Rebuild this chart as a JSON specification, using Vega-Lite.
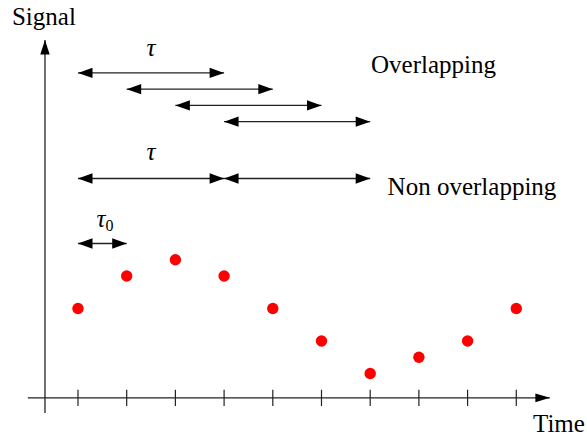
{
  "$schema": "https://vega.github.io/schema/vega-lite/v6.json",
  "width": 587,
  "height": 437,
  "autosize": {"type": "fit", "contains": "padding"},
  "padding": 0,
  "background": "white",
  "config": {"view": {"stroke": null}},
  "datasets": {
    "signal": [
      {"t": 1, "s": 6}, {"t": 2, "s": 8}, {"t": 3, "s": 9}, {"t": 4, "s": 8}, {"t": 5, "s": 6},
      {"t": 6, "s": 4}, {"t": 7, "s": 2}, {"t": 8, "s": 3}, {"t": 9, "s": 4}, {"t": 10, "s": 6}
    ],
    "intervals": [
      {"kind": "Overlapping", "start": 1, "end": 4, "level": 20.5},
      {"kind": "Overlapping", "start": 2, "end": 5, "level": 19.5},
      {"kind": "Overlapping", "start": 3, "end": 6, "level": 18.5},
      {"kind": "Overlapping", "start": 4, "end": 7, "level": 17.5},
      {"kind": "Non overlapping", "start": 1, "end": 4, "level": 14},
      {"kind": "Non overlapping", "start": 4, "end": 7, "level": 14},
      {"kind": "tau0", "start": 1, "end": 2, "level": 10}
    ],
    "ticks": [
      {"t": 1, "lo": 0, "hi": 1}, {"t": 2, "lo": 0, "hi": 1}, {"t": 3, "lo": 0, "hi": 1},
      {"t": 4, "lo": 0, "hi": 1}, {"t": 5, "lo": 0, "hi": 1}, {"t": 6, "lo": 0, "hi": 1},
      {"t": 7, "lo": 0, "hi": 1}, {"t": 8, "lo": 0, "hi": 1}, {"t": 9, "lo": 0, "hi": 1},
      {"t": 10, "lo": 0, "hi": 1}
    ],
    "axes": [
      {"axis": "time", "x0": -0.03, "x1": 10.69, "y0": 0.5, "y1": 0.5, "dir": "right"},
      {"axis": "signal", "x0": 0.322, "x1": 0.322, "y0": -0.43, "y1": 22.52, "dir": "up"}
    ],
    "labels": [
      {"label": "Signal", "x": 0.3, "y": 23.45},
      {"label": "Time", "x": 10.876, "y": -1.6},
      {"label": "Overlapping", "x": 8.3, "y": 20.5},
      {"label": "Non overlapping", "x": 9.09, "y": 13.0}
    ],
    "taus": [
      {"label": "τ", "x": 2.5, "y": 21.55},
      {"label": "τ", "x": 2.5, "y": 15.14},
      {"label": "τ", "x": 1.47, "y": 11.0}
    ],
    "subs": [
      {"label": "0", "x": 1.647, "y": 10.8}
    ]
  },
  "resolve": {"scale": {"shape": "independent"}},
  "layer": [
    {
      "data": {"name": "axes"},
      "mark": {"type": "rule", "color": "#222", "strokeWidth": 1.3},
      "encoding": {
        "x": {"field": "x0", "type": "quantitative", "scale": {"domain": [-0.6016, 11.452], "nice": false, "zero": false}, "axis": null},
        "x2": {"field": "x1"},
        "y": {"field": "y0", "type": "quantitative", "scale": {"domain": [-1.908, 24.985], "nice": false, "zero": false}, "axis": null},
        "y2": {"field": "y1"}
      }
    },
    {
      "data": {"name": "axes"},
      "mark": {"type": "point", "filled": true, "color": "black", "opacity": 1, "size": 210, "strokeWidth": 0},
      "encoding": {
        "x": {"field": "x1", "type": "quantitative"},
        "y": {"field": "y1", "type": "quantitative"},
        "shape": {"field": "dir", "type": "nominal", "legend": null,
          "scale": {"domain": ["right", "up"], "range": ["M0,0L-2,-0.6L-2,0.6Z", "M0,0L-0.65,2L0.65,2Z"]}}
      }
    },
    {
      "data": {"name": "ticks"},
      "mark": {"type": "rule", "color": "#222", "strokeWidth": 1.2},
      "encoding": {
        "x": {"field": "t", "type": "quantitative"},
        "y": {"field": "lo", "type": "quantitative"},
        "y2": {"field": "hi"}
      }
    },
    {
      "data": {"name": "intervals"},
      "mark": {"type": "rule", "color": "#222", "strokeWidth": 1.3},
      "encoding": {
        "x": {"field": "start", "type": "quantitative"},
        "x2": {"field": "end"},
        "y": {"field": "level", "type": "quantitative"}
      }
    },
    {
      "data": {"name": "intervals"},
      "mark": {"type": "point", "filled": true, "color": "black", "opacity": 1, "size": 210, "strokeWidth": 0, "shape": "M0,0L2,-0.72L2,0.72Z"},
      "encoding": {
        "x": {"field": "start", "type": "quantitative"},
        "y": {"field": "level", "type": "quantitative"}
      }
    },
    {
      "data": {"name": "intervals"},
      "mark": {"type": "point", "filled": true, "color": "black", "opacity": 1, "size": 210, "strokeWidth": 0, "shape": "M0,0L-2,-0.72L-2,0.72Z"},
      "encoding": {
        "x": {"field": "end", "type": "quantitative"},
        "y": {"field": "level", "type": "quantitative"}
      }
    },
    {
      "data": {"name": "signal"},
      "mark": {"type": "circle", "color": "#ff0000", "opacity": 1, "size": 130},
      "encoding": {
        "x": {"field": "t", "type": "quantitative"},
        "y": {"field": "s", "type": "quantitative"}
      }
    },
    {
      "data": {"name": "labels"},
      "mark": {"type": "text", "font": "Liberation Serif", "fontSize": 25, "color": "black", "align": "center", "baseline": "alphabetic"},
      "encoding": {
        "x": {"field": "x", "type": "quantitative"},
        "y": {"field": "y", "type": "quantitative"},
        "text": {"field": "label"}
      }
    },
    {
      "data": {"name": "taus"},
      "mark": {"type": "text", "font": "Liberation Serif", "fontStyle": "italic", "fontSize": 25, "color": "black", "align": "center", "baseline": "alphabetic"},
      "encoding": {
        "x": {"field": "x", "type": "quantitative"},
        "y": {"field": "y", "type": "quantitative"},
        "text": {"field": "label"}
      }
    },
    {
      "data": {"name": "subs"},
      "mark": {"type": "text", "font": "Liberation Serif", "fontSize": 16, "color": "black", "align": "center", "baseline": "alphabetic"},
      "encoding": {
        "x": {"field": "x", "type": "quantitative"},
        "y": {"field": "y", "type": "quantitative"},
        "text": {"field": "label"}
      }
    }
  ]
}
